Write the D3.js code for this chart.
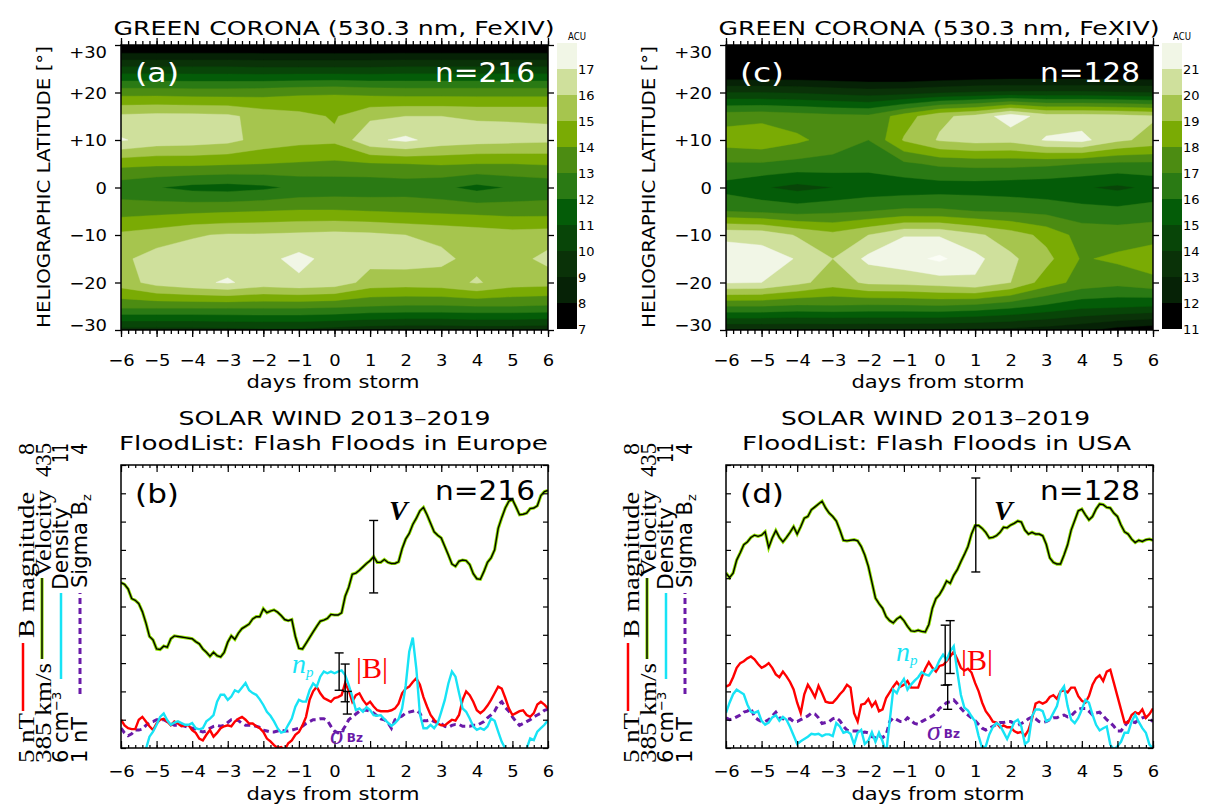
<!DOCTYPE html>
<html><head><meta charset="utf-8">
<script src="https://cdn.jsdelivr.net/npm/d3@7"></script>
<style>body{margin:0;background:#fff} svg{display:block}</style>
</head><body>
<svg id="chart" width="1205" height="806"></svg>
<script>
// ---------------- DATA ----------------
const gridDays = [-6,-5,-4,-3,-2,-1,0,1,2,3,4,5,6];
const gridLats = [30,25,20,15,10,5,0,-5,-10,-15,-20,-25,-30];
const coronaEurope = [
 [6.8,6.8,6.8,6.8,6.8,6.8,6.8,6.8,6.8,6.8,6.8,6.8,6.8],
 [10.3,10.3,10.3,10.3,10.2,10.2,10.2,10.2,10.3,10.3,10.3,10.3,10.3],
 [13.6,13.6,13.5,13.5,13.6,13.8,13.9,13.7,13.6,13.6,13.6,13.6,13.6],
 [16.2,16.3,16.3,16.2,15.6,15.3,14.9,15.8,16.0,16.0,15.9,15.9,15.9],
 [17.1,16.6,16.5,16.3,15.6,15.3,15.2,16.8,17.2,16.6,16.4,16.3,16.2],
 [14.3,14.2,14.2,14.1,14.0,13.9,13.8,13.9,14.0,14.1,14.0,14.0,14.1],
 [12.4,12.05,11.7,11.6,11.8,12.2,12.3,12.3,12.4,12.2,11.7,12.1,12.3],
 [13.6,13.7,13.8,13.9,14.0,14.1,14.1,14.0,13.9,13.8,13.7,13.6,13.6],
 [15.2,15.5,15.9,16.1,16.1,16.2,16.3,16.2,16.0,15.8,15.6,15.4,15.5],
 [15.8,16.4,16.5,16.6,16.7,17.3,16.6,16.3,16.4,16.2,15.7,15.6,16.3],
 [15.5,16.4,16.8,17.1,16.6,16.8,16.6,15.6,15.5,15.6,16.1,15.5,15.4],
 [13.3,13.3,13.3,13.3,13.3,13.3,13.2,13.0,12.9,12.9,13.0,13.0,12.9],
 [9.6,9.6,9.6,9.7,9.8,9.8,9.6,9.4,9.3,9.3,9.4,9.4,9.3]
];
const coronaUSA = [
 [9.0,9.0,9.0,9.0,9.0,9.0,9.0,9.0,9.0,9.0,9.0,9.0,9.0],
 [10.3,10.3,10.3,10.2,10.1,10.0,10.1,10.2,10.3,10.3,10.3,10.3,10.3],
 [14.0,14.0,13.9,13.7,13.5,13.6,13.9,14.1,14.2,14.2,14.2,14.1,14.0],
 [17.6,17.7,17.5,17.3,17.2,18.5,19.8,20.3,21.6,20.5,20.5,20.4,20.1],
 [18.5,18.7,18.2,17.6,17.0,19.1,20.1,20.4,20.3,21.1,21.3,20.2,19.7],
 [16.9,16.9,16.7,16.6,16.4,16.8,17.2,17.3,17.3,17.2,17.0,16.8,16.8],
 [15.6,15.1,14.7,15.0,15.3,15.4,15.5,15.5,15.4,15.3,15.1,14.8,15.2],
 [17.0,16.8,16.6,16.8,17.0,17.2,17.2,17.0,16.9,16.7,16.4,16.3,16.5],
 [20.8,20.7,19.9,19.3,20.0,20.95,20.9,20.2,19.5,18.7,17.6,17.5,17.6],
 [21.5,21.4,20.95,20.0,21.25,21.6,22.2,21.3,20.2,19.3,17.9,18.2,18.6],
 [21.1,21.0,20.3,19.5,20.2,20.3,20.5,20.85,20.0,18.5,17.6,17.3,17.7],
 [17.0,17.0,16.8,16.9,16.8,16.8,16.9,16.7,16.3,15.8,15.3,15.2,15.0],
 [13.0,13.0,13.0,13.0,13.0,13.0,12.9,12.8,12.7,12.5,12.2,11.6,11.3]
];
const acuTicksEurope = [7,8,9,10,11,12,13,14,15,16,17];
const acuTicksUSA = [11,12,13,14,15,16,17,18,19,20,21];
const bandColors = ['#000000','#062206','#0a3208','#084508','#045c08','#2a7a14','#4c8c12','#7aab04','#a6c54e','#cfe09c','#f1f6e6','#fbfdf6'];
const latTicks = [30,20,10,0,-10,-20,-30];
const dayTicks = [-6,-5,-4,-3,-2,-1,0,1,2,3,4,5,6];

// solar wind superposed epochs, sampled every 0.1 day from -6 to +6
const sampleDays = d3.range(121).map(i => -6 + i / 10);
const velEurope = [
414.2,413.9,413.1,411.4,411.1,410.5,409.1,407.1,404.7,404.1,
402.5,402.4,403.0,402.8,404.3,404.8,404.7,404.6,404.5,404.4,
404.3,403.8,403.4,402.5,401.9,401.2,401.9,401.3,401.1,401.9,
403.7,404.8,404.2,405.3,406.1,406.5,406.9,407.8,408.2,408.2,
409.6,408.9,409.2,409.4,409.0,408.4,407.7,407.5,407.7,404.7,
402.6,402.5,403.5,404.5,405.5,406.5,407.4,407.6,407.9,408.6,
408.5,408.5,408.9,411.8,413.4,415.7,415.9,416.4,417.0,417.6,
418.1,418.8,417.8,417.8,418.3,417.8,417.6,417.6,417.9,420.2,
421.9,422.9,424.5,425.6,426.9,427.5,426.2,424.7,423.2,422.6,
422.1,420.6,419.1,417.5,417.1,418.0,418.2,418.1,417.4,415.8,
414.9,414.8,416.2,417.8,418.6,420.0,423.8,425.7,427.4,428.6,
428.9,427.6,426.2,426.3,426.5,427.3,427.4,427.8,429.6,430.3,430.5];
const bmagEurope = [
5.30,5.24,5.21,5.20,5.20,5.30,5.33,5.28,5.23,5.19,
5.26,5.30,5.31,5.28,5.24,5.28,5.26,5.23,5.24,5.24,
5.19,5.16,5.10,5.08,5.14,5.19,5.12,5.16,5.21,5.23,
5.24,5.23,5.28,5.31,5.33,5.30,5.26,5.26,5.23,5.21,
5.17,5.10,5.07,5.03,5.00,5.01,4.98,5.05,5.08,5.14,
5.17,5.24,5.33,5.51,5.60,5.65,5.58,5.53,5.51,5.49,
5.53,5.54,5.56,5.69,5.61,5.49,5.56,5.58,5.51,5.46,
5.49,5.44,5.40,5.39,5.39,5.39,5.40,5.42,5.47,5.58,
5.63,5.65,5.70,5.74,5.67,5.54,5.44,5.35,5.30,5.26,
5.24,5.24,5.27,5.30,5.29,5.35,5.51,5.60,5.56,5.49,
5.40,5.37,5.40,5.45,5.51,5.58,5.65,5.63,5.53,5.42,
5.35,5.37,5.39,5.40,5.35,5.33,5.37,5.46,5.49,5.46,5.42];
const densEurope = [
6.00,5.90,5.85,5.85,5.88,5.90,5.94,5.98,6.20,6.29,
6.41,6.55,6.61,6.49,6.41,6.45,6.47,6.44,6.41,6.41,
6.44,6.35,6.33,6.35,6.47,6.52,6.58,6.82,6.94,6.94,
6.85,6.91,7.02,6.99,7.07,7.15,7.02,6.97,6.94,6.86,
6.76,6.64,6.57,6.47,6.35,6.27,6.29,6.41,6.52,6.73,
6.85,6.82,6.82,7.02,7.14,7.08,7.26,7.35,7.32,7.35,
7.32,7.35,7.37,7.29,7.11,6.91,6.67,6.70,6.64,6.72,
6.67,6.58,6.57,6.58,6.51,6.45,6.39,6.44,6.51,6.70,
7.10,7.70,7.95,7.40,6.60,6.35,6.35,6.41,6.35,6.44,
6.64,6.85,7.14,7.35,7.26,6.97,6.70,6.64,6.52,6.38,
6.32,6.35,6.32,6.38,6.52,6.48,6.29,6.11,5.99,5.88,
5.82,5.82,5.85,5.91,5.99,6.17,6.14,6.29,6.35,6.41,6.49];
const sigEurope = [
1.21,1.16,1.13,1.15,1.19,1.19,1.20,1.24,1.27,1.28,
1.30,1.30,1.30,1.28,1.26,1.24,1.24,1.24,1.23,1.22,
1.21,1.20,1.18,1.17,1.18,1.21,1.23,1.24,1.23,1.24,
1.27,1.30,1.30,1.29,1.26,1.24,1.24,1.24,1.23,1.22,
1.19,1.18,1.17,1.17,1.18,1.19,1.18,1.18,1.19,1.20,
1.21,1.23,1.26,1.28,1.30,1.30,1.31,1.31,1.29,1.23,
1.18,1.16,1.17,1.23,1.30,1.33,1.36,1.39,1.40,1.40,
1.39,1.37,1.34,1.31,1.30,1.27,1.21,1.30,1.32,1.34,
1.37,1.38,1.39,1.40,1.37,1.29,1.29,1.30,1.28,1.27,
1.26,1.23,1.22,1.24,1.25,1.25,1.23,1.23,1.23,1.24,
1.24,1.26,1.28,1.32,1.35,1.39,1.46,1.49,1.43,1.39,
1.33,1.28,1.24,1.26,1.28,1.30,1.33,1.35,1.37,1.40,1.41];
const velUSA = [
415.9,415.1,415.9,418.2,419.5,420.9,421.4,422.2,422.6,422.4,
422.6,423.2,420.4,422.1,423.4,422.2,421.4,422.2,423.1,424.1,
422.8,424.1,425.6,425.9,427.1,427.6,428.1,428.6,427.4,426.5,
425.9,425.1,423.5,421.7,421.6,421.7,421.8,421.6,420.6,419.1,
417.1,414.3,411.5,410.5,409.7,408.2,407.5,407.1,407.8,408.2,
407.5,406.5,405.7,405.6,405.8,405.6,405.5,406.8,409.7,411.4,
412.1,413.2,414.5,414.1,415.5,416.5,417.9,419.2,420.6,422.8,
424.3,424.3,423.8,423.1,422.1,422.2,422.5,423.1,424.0,423.9,
424.4,424.7,425.1,424.9,423.5,422.8,423.1,422.8,422.8,422.5,
421.0,418.6,417.8,417.5,417.5,419.1,420.9,423.5,425.2,426.9,
427.2,426.2,425.3,425.9,427.2,428.1,428.0,427.5,427.4,426.5,
425.9,424.4,423.2,422.8,421.9,421.3,421.7,421.5,421.8,421.9,421.7];
const bmagUSA = [
5.65,5.67,5.75,5.85,5.90,5.92,5.95,5.97,5.94,5.89,
5.85,5.87,5.90,5.85,5.78,5.75,5.81,5.76,5.70,5.62,
5.48,5.37,5.57,5.67,5.61,5.54,5.66,5.58,5.49,5.48,
5.48,5.52,5.57,5.61,5.67,5.64,5.37,5.28,5.46,5.47,
5.52,5.44,5.49,5.39,5.41,5.53,5.59,5.65,5.70,5.65,
5.67,5.71,5.64,5.64,5.64,5.75,5.84,5.91,5.85,5.81,
5.87,5.88,5.92,5.97,6.02,5.94,5.85,5.82,5.84,5.80,
5.69,5.60,5.48,5.39,5.34,5.28,5.27,5.22,5.24,5.22,
5.22,5.18,5.16,5.17,5.13,5.19,5.31,5.47,5.49,5.47,
5.49,5.54,5.56,5.52,5.60,5.61,5.59,5.64,5.64,5.55,
5.50,5.48,5.55,5.67,5.74,5.77,5.71,5.81,5.83,5.69,
5.55,5.41,5.27,5.27,5.35,5.38,5.36,5.41,5.32,5.36,5.42];
const densUSA = [
6.62,6.80,6.95,7.03,6.99,6.95,6.77,6.64,6.62,6.65,
6.48,6.41,6.45,6.54,6.58,6.48,6.55,6.50,6.37,6.22,
6.07,6.12,6.16,6.20,6.25,6.24,6.25,6.21,6.24,6.24,
6.21,6.44,6.38,6.27,6.29,6.25,6.06,6.27,6.32,6.07,
6.13,6.28,6.11,6.27,6.12,5.90,6.47,7.03,6.97,7.12,
7.22,7.03,7.12,7.19,7.25,7.34,7.30,7.28,7.37,7.41,
7.55,7.65,7.56,7.71,7.80,7.35,6.94,6.71,6.66,6.56,
6.47,6.21,6.00,6.03,6.24,6.37,6.44,6.40,6.28,6.16,
6.30,6.46,6.50,6.38,6.07,6.12,6.56,6.68,6.68,6.65,
6.47,6.50,6.62,6.74,7.00,7.09,6.74,6.50,6.44,6.53,
6.68,6.85,6.80,6.59,6.41,6.31,6.35,6.38,6.06,5.97,
6.03,6.11,6.27,6.27,6.47,6.59,6.46,6.35,6.27,6.06,5.99];
const sigUSA = [
1.32,1.30,1.31,1.33,1.35,1.38,1.39,1.42,1.33,1.30,
1.28,1.28,1.30,1.34,1.38,1.32,1.31,1.30,1.31,1.28,
1.28,1.30,1.32,1.34,1.37,1.36,1.32,1.26,1.27,1.28,
1.31,1.32,1.29,1.23,1.19,1.18,1.18,1.18,1.16,1.17,
1.16,1.12,1.11,1.13,1.11,1.14,1.28,1.32,1.30,1.28,
1.28,1.32,1.29,1.26,1.25,1.28,1.30,1.32,1.34,1.37,
1.42,1.45,1.48,1.49,1.51,1.47,1.42,1.38,1.35,1.32,
1.29,1.25,1.21,1.19,1.21,1.23,1.25,1.27,1.27,1.28,
1.28,1.26,1.24,1.26,1.28,1.31,1.33,1.31,1.28,1.27,
1.28,1.30,1.32,1.32,1.34,1.35,1.33,1.34,1.38,1.41,
1.42,1.42,1.39,1.35,1.37,1.38,1.34,1.30,1.27,1.23,
1.18,1.18,1.23,1.28,1.28,1.27,1.30,1.32,1.33,1.31,1.28];
// error bars: [day, centre, half-length]
const errVelEurope = [1.1, 418.8, 6.4];
const errDensEurope = [0.13, 7.35, 0.33];
const errBmagEurope = [0.3, 5.69, 0.2];
const errSigEurope = [0.36, 1.48, 0.12];
const errVelUSA = [1.02, 424.4, 8.3];
const errDensUSA = [0.16, 7.64, 0.53];
const errBmagUSA = [0.3, 6.07, 0.28];
const errSigUSA = [0.23, 1.54, 0.13];
const velRange = [385, 435], bmagRange = [5, 8], densRange = [6, 11], sigRange = [1, 4];

// ---------------- DRAWING ----------------
const SANS = '"DejaVu Sans", sans-serif';
const SERIF = '"Liberation Serif", "DejaVu Serif", serif';
const svg = d3.select('#chart');
const defs = svg.append('defs');

function txt(parent, str, x, y, o = {}) {
  const t = parent.append('text').attr('x', x).attr('y', y).text(str)
    .attr('font-size', o.size || 16).attr('text-anchor', o.anchor || 'start')
    .attr('fill', o.fill || '#000').attr('font-family', o.family || SANS);
  if (o.italic) t.attr('font-style', 'italic');
  if (o.weight) t.attr('font-weight', o.weight);
  if (o.width) t.attr('textLength', o.width).attr('lengthAdjust', 'spacingAndGlyphs');
  if (o.rotate) t.attr('transform', `rotate(${o.rotate},${x},${y})`);
  return t;
}
function widen(sel, f) {
  sel.each(function () {
    const w = this.getComputedTextLength();
    if (w > 0) { this.setAttribute('textLength', w * f); this.setAttribute('lengthAdjust', 'spacingAndGlyphs'); }
  });
}

function coronaPanel(o) {
  const left = o.left, right = o.left + 427, top = 45, bottom = 330;
  const g = svg.append('g');
  const x = d3.scaleLinear().domain([-6, 6]).range([left, right]);
  const y = d3.scaleLinear().domain([-30, 30]).range([bottom, top]);
  defs.append('clipPath').attr('id', 'clip' + o.tag).append('rect')
    .attr('x', left).attr('y', top).attr('width', right - left).attr('height', bottom - top);
  const cg = g.append('g').attr('clip-path', `url(#clip${o.tag})`);
  cg.append('rect').attr('x', left).attr('y', top).attr('width', right - left)
    .attr('height', bottom - top).attr('fill', bandColors[0]);
  const lo = o.ticks[0];
  const thresholds = d3.range(1, 12).map(i => lo + i);
  const dStep = gridDays[1] - gridDays[0], lStep = gridLats[1] - gridLats[0];
  const contours = d3.contours().size([gridDays.length, gridLats.length])
    .thresholds(thresholds)(o.grid.flat());
  const proj = d3.geoTransform({ point(px, py) {
    this.stream.point(x(gridDays[0] + (px - 0.5) * dStep), y(gridLats[0] + (py - 0.5) * lStep));
  }});
  const path = d3.geoPath(proj);
  cg.selectAll('path.band').data(contours).join('path').attr('class', 'band')
    .attr('d', path).attr('fill', (d, i) => bandColors[i + 1]).attr('stroke', (d, i) => bandColors[i + 1]).attr('stroke-width', 0.4);

  // axes (outward ticks)
  const minor = d3.range(0, 61).map(i => -6 + i * 0.2);
  const axB = g.append('g').attr('transform', `translate(0,${bottom})`)
    .call(d3.axisBottom(x).tickValues(dayTicks).tickSize(7).tickSizeOuter(0).tickPadding(18));
  g.append('g').attr('transform', `translate(0,${bottom})`)
    .call(d3.axisBottom(x).tickValues(minor).tickSize(4).tickSizeOuter(0).tickFormat(''));
  g.append('g').attr('transform', `translate(0,${top})`)
    .call(d3.axisTop(x).tickValues(dayTicks).tickSize(7).tickSizeOuter(0).tickFormat(''));
  g.append('g').attr('transform', `translate(0,${top})`)
    .call(d3.axisTop(x).tickValues(minor).tickSize(4).tickSizeOuter(0).tickFormat(''));
  const axL = g.append('g').attr('transform', `translate(${left},0)`)
    .call(d3.axisLeft(y).tickValues(latTicks).tickSize(6).tickSizeOuter(0).tickPadding(8)
      .tickFormat(v => v > 0 ? '+' + v : (v < 0 ? '\u2212' + (-v) : '0')));
  g.append('g').attr('transform', `translate(${right},0)`)
    .call(d3.axisRight(y).tickValues(latTicks).tickSize(6).tickSizeOuter(0).tickFormat(''));
  g.selectAll('.domain').remove();
  g.selectAll('.tick line').attr('stroke', '#000').attr('stroke-width', 1.3);
  axB.selectAll('text').attr('font-size', 16).attr('font-family', SANS).attr('fill', '#000');
  axL.selectAll('text').attr('font-size', 16).attr('font-family', SANS).attr('fill', '#000')
    .attr('dy', v => v === 30 ? '0.8em' : (v === -30 ? '0.0em' : '0.35em'));
  widen(axB.selectAll('text'), 1.12);
  widen(axL.selectAll('text'), 1.12);
  g.append('rect').attr('x', left).attr('y', top).attr('width', right - left).attr('height', bottom - top)
    .attr('fill', 'none').attr('stroke', '#000').attr('stroke-width', 1.5);

  // colorbar
  const cb = d3.scaleLinear().domain([lo, lo + 11]).range([329, 43]);
  const bands = d3.range(0, 11).map(i => lo + i);
  g.selectAll('rect.cb').data(bands).join('rect').attr('class', 'cb')
    .attr('x', o.cbX).attr('width', 20).attr('y', v => cb(v + 1)).attr('height', v => cb(v) - cb(v + 1))
    .attr('fill', (v, i) => bandColors[i]);
  g.selectAll('text.cbl').data(o.ticks).join('text').attr('class', 'cbl')
    .attr('x', o.cbX + 21).attr('y', v => cb(v)).attr('dy', '0.36em').text(v => v)
    .attr('font-size', 13).attr('font-family', SANS);
  txt(g, 'ACU', o.cbX + 20, 40, { size: 11, anchor: 'middle', width: 18 });

  // texts
  txt(g, 'GREEN CORONA (530.3 nm, FeXIV)', left + 213, 35, { size: 19, anchor: 'middle', width: 441 });
  txt(g, 'days from storm', left + 212, 388, { size: 17, anchor: 'middle', width: 173 });
  txt(g, 'HELIOGRAPHIC LATITUDE [\u00b0]', left - 71, 187, { size: 18, anchor: 'middle', width: 282, rotate: -90 });
  txt(g, `(${o.tag})`, left + 14, 82, { size: 26, fill: '#fff', width: 44 });
  txt(g, o.n, left + 414, 82, { size: 27, fill: '#fff', anchor: 'end', width: 100 });
}

function solarPanel(o) {
  const left = o.left, right = o.left + 427, top = 465, bottom = 748;
  const g = svg.append('g');
  const x = d3.scaleLinear().domain([-6, 6]).range([left, right]);
  const yV = d3.scaleLinear().domain(velRange).range([bottom, top]);
  const yB = d3.scaleLinear().domain(bmagRange).range([bottom, top]);
  const yD = d3.scaleLinear().domain(densRange).range([bottom, top]);
  const yS = d3.scaleLinear().domain(sigRange).range([bottom, top]);
  defs.append('clipPath').attr('id', 'clip' + o.tag).append('rect')
    .attr('x', left).attr('y', top).attr('width', right - left).attr('height', bottom - top);
  const lg = g.append('g').attr('clip-path', `url(#clip${o.tag})`);
  const line = ys => d3.line().x((d, i) => x(sampleDays[i])).y(d => ys(d));
  lg.append('path').datum(o.sig).attr('d', line(yS)).attr('fill', 'none')
    .attr('stroke', '#6a1aa8').attr('stroke-width', 3).attr('stroke-dasharray', '6,4');
  lg.append('path').datum(o.bmag).attr('d', line(yB)).attr('fill', 'none')
    .attr('stroke', '#ff0000').attr('stroke-width', 2.4);
  lg.append('path').datum(o.dens).attr('d', line(yD)).attr('fill', 'none')
    .attr('stroke', '#17e3f5').attr('stroke-width', 2.4);
  lg.append('path').datum(o.vel).attr('d', line(yV)).attr('fill', 'none')
    .attr('stroke', '#8fe000').attr('stroke-width', 3.2);
  lg.append('path').datum(o.vel).attr('d', line(yV)).attr('fill', 'none')
    .attr('stroke', '#000').attr('stroke-width', 1.4);

  // error bars
  [[o.errVel, yV], [o.errDens, yD], [o.errBmag, yB], [o.errSig, yS]].forEach(([e, ys]) => {
    const ex = x(e[0]), y1 = ys(e[1] + e[2]), y2 = ys(e[1] - e[2]);
    const eg = g.append('g').attr('stroke', '#000').attr('stroke-width', 1.4);
    eg.append('line').attr('x1', ex).attr('x2', ex).attr('y1', y1).attr('y2', y2);
    eg.append('line').attr('x1', ex - 4.5).attr('x2', ex + 4.5).attr('y1', y1).attr('y2', y1);
    eg.append('line').attr('x1', ex - 4.5).attr('x2', ex + 4.5).attr('y1', y2).attr('y2', y2);
  });

  // axes (inward ticks)
  const minor = d3.range(0, 61).map(i => -6 + i * 0.2);
  const yT = d3.range(0, 11).map(i => velRange[0] + i * (velRange[1] - velRange[0]) / 10);
  const axB = g.append('g').attr('transform', `translate(0,${bottom})`)
    .call(d3.axisBottom(x).tickValues(dayTicks).tickSize(-7).tickSizeOuter(0).tickPadding(18));
  g.append('g').attr('transform', `translate(0,${bottom})`)
    .call(d3.axisBottom(x).tickValues(minor).tickSize(-3).tickSizeOuter(0).tickFormat(''));
  g.append('g').attr('transform', `translate(0,${top})`)
    .call(d3.axisTop(x).tickValues(dayTicks).tickSize(-7).tickSizeOuter(0).tickFormat(''));
  g.append('g').attr('transform', `translate(0,${top})`)
    .call(d3.axisTop(x).tickValues(minor).tickSize(-3).tickSizeOuter(0).tickFormat(''));
  g.append('g').attr('transform', `translate(${left},0)`)
    .call(d3.axisLeft(yV).tickValues(yT).tickSize(-5).tickSizeOuter(0).tickFormat(''));
  g.append('g').attr('transform', `translate(${right},0)`)
    .call(d3.axisRight(yV).tickValues(yT).tickSize(-5).tickSizeOuter(0).tickFormat(''));
  g.selectAll('.domain').remove();
  g.selectAll('.tick line').attr('stroke', '#000').attr('stroke-width', 1.2);
  axB.selectAll('text').attr('font-size', 16).attr('font-family', SANS).attr('fill', '#000');
  widen(axB.selectAll('text'), 1.12);
  g.append('rect').attr('x', left).attr('y', top).attr('width', right - left).attr('height', bottom - top)
    .attr('fill', 'none').attr('stroke', '#000').attr('stroke-width', 1.5);

  // titles & labels
  txt(g, 'SOLAR WIND 2013\u20132019', o.t1x, 425, { size: 20, anchor: 'middle', width: o.t1w });
  txt(g, o.title2, o.t2x, 450, { size: 20, anchor: 'middle', width: o.t2w });
  txt(g, 'days from storm', left + 212, 800, { size: 17, anchor: 'middle', width: 173 });
  txt(g, `(${o.tag})`, left + 14, 503, { size: 26, width: 44 });
  txt(g, o.n, left + 414, 500, { size: 27, anchor: 'end', width: 100 });

  // annotations
  const a = o.ann;
  txt(g, 'V', a.V[0], a.V[1], { size: 28, family: SERIF, italic: true, weight: 'bold' });
  const np = txt(g, 'n', a.np[0], a.np[1], { size: 28, family: SERIF, italic: true, fill: '#17e3f5' });
  np.append('tspan').attr('dy', 4).attr('font-size', 15).text('p');
  txt(g, '|B|', a.B[0], a.B[1], { size: 30, family: SERIF, fill: '#ff0000' });
  const sg = txt(g, '\u03c3', a.S[0], a.S[1], { size: 28, family: SERIF, italic: true, fill: '#6a1aa8' });
  sg.append('tspan').attr('dy', -2).attr('dx', 3).attr('font-size', 12).attr('font-style', 'normal')
    .attr('font-family', SANS).attr('font-weight', 'bold').text('Bz');

  // rotated legend columns at the left
  const L = o.left - 121;
  const rot = (str, bx, yy, opt) => {
    const t = g.append('text').attr('transform', `translate(${L + bx},${yy}) rotate(-90)`)
      .attr('font-size', opt.size).attr('font-family', opt.family || SANS)
      .attr('text-anchor', opt.anchor || 'start').text(str);
    if (opt.width) t.attr('textLength', opt.width).attr('lengthAdjust', 'spacingAndGlyphs');
    return t;
  };
  const vline = (bx, y1, y2, color, w, dash) => {
    const l = g.append('line').attr('x1', L + bx).attr('x2', L + bx).attr('y1', y1).attr('y2', y2)
      .attr('stroke', color).attr('stroke-width', w);
    if (dash) l.attr('stroke-dasharray', dash);
  };
  // column 1: B magnitude
  rot('5 nT', 34, 763, { size: 24, family: SERIF, width: 50 });
  vline(23, 711, 643, '#ff0000', 2.5);
  rot('B magnitude', 34, 638, { size: 24, family: SERIF, width: 146 });
  rot('8', 34, 443, { size: 24, family: SERIF, anchor: 'end', width: 12 });
  // column 2: velocity
  rot('385 km/s', 51, 763, { size: 24, family: SERIF, width: 100 });
  vline(42, 659, 578, '#8fe000', 3.2);
  vline(42, 659, 578, '#000', 1.4);
  rot('Velocity', 51, 577, { size: 24, family: SERIF, width: 87 });
  rot('435', 51, 443, { size: 24, family: SERIF, anchor: 'end', width: 34 });
  // column 3: density
  const c3 = rot('6 cm', 68, 763, { size: 21 });
  c3.append('tspan').attr('dy', -7).attr('font-size', 13).text('\u22123');
  vline(61, 679, 593, '#17e3f5', 2.5);
  rot('Density', 68, 590, { size: 21, width: 83 });
  rot('11', 68, 443, { size: 21, anchor: 'end', width: 20 });
  // column 4: sigma Bz
  rot('1 nT', 87, 763, { size: 21, width: 46 });
  vline(80, 694, 593, '#6a1aa8', 3, '6,4');
  const c4 = rot('Sigma B', 87, 588, { size: 21 });
  c4.append('tspan').attr('dy', 4).attr('font-size', 13).text('z');
  rot('4', 87, 443, { size: 21, anchor: 'end', width: 12 });
}

coronaPanel({ left: 121, tag: 'a', grid: coronaEurope, ticks: acuTicksEurope, cbX: 557, n: 'n=216' });
coronaPanel({ left: 726, tag: 'c', grid: coronaUSA, ticks: acuTicksUSA, cbX: 1162, n: 'n=128' });
solarPanel({ left: 121, tag: 'b', n: 'n=216', title2: 'FloodList: Flash Floods in Europe',
  t1x: 334.5, t1w: 312, t2x: 333.5, t2w: 429,
  vel: velEurope, bmag: bmagEurope, dens: densEurope, sig: sigEurope,
  errVel: errVelEurope, errDens: errDensEurope, errBmag: errBmagEurope, errSig: errSigEurope,
  ann: { V: [389, 520], np: [292, 673], B: [356, 678], S: [330, 744] } });
solarPanel({ left: 726, tag: 'd', n: 'n=128', title2: 'FloodList: Flash Floods in USA',
  t1x: 935.5, t1w: 309, t2x: 936.5, t2w: 389,
  vel: velUSA, bmag: bmagUSA, dens: densUSA, sig: sigUSA,
  errVel: errVelUSA, errDens: errDensUSA, errBmag: errBmagUSA, errSig: errSigUSA,
  ann: { V: [994, 520], np: [896, 661], B: [961, 670], S: [927, 740] } });
</script>
</body></html>
